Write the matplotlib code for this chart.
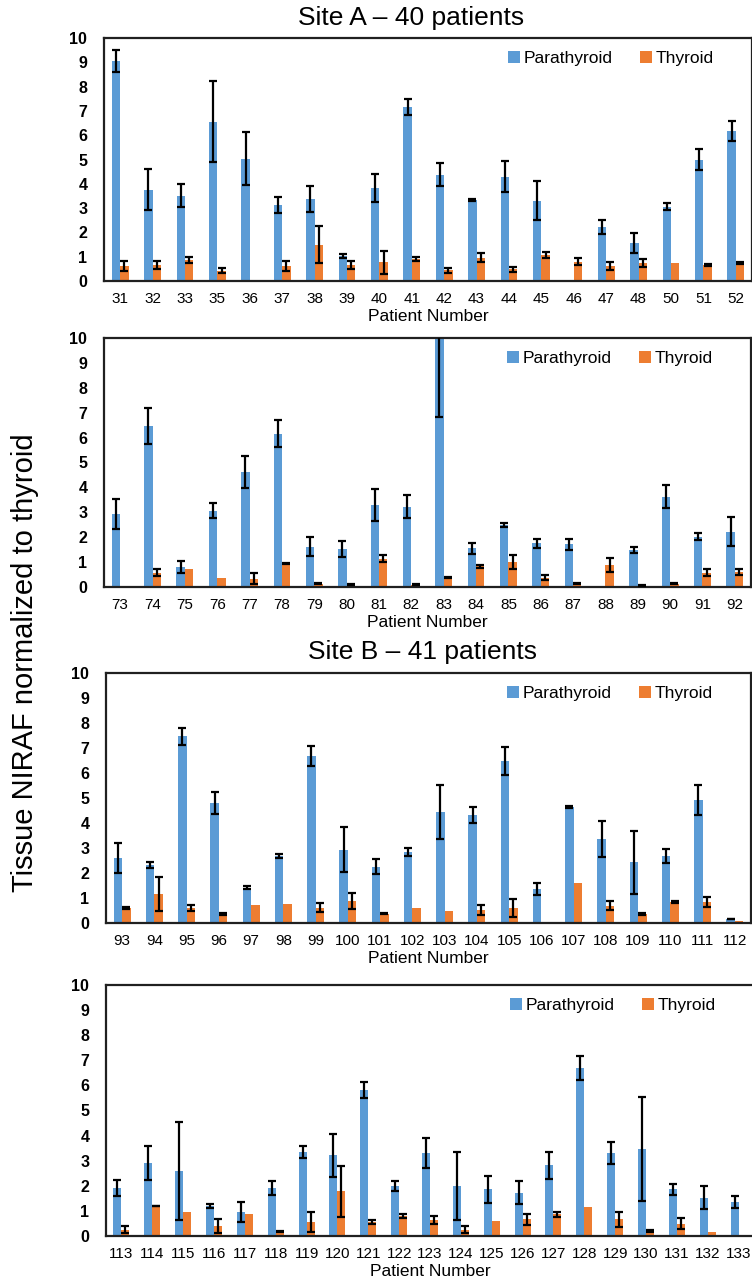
import numpy as np
import matplotlib
matplotlib.use('Agg')
import matplotlib.pyplot as plt

plt.rcParams['font.family'] = ['Liberation Sans', 'DejaVu Sans']

# Site A, first panel
ids_a1 = [31, 32, 33, 35, 36, 37, 38, 39, 40, 41, 42, 43, 44, 45, 46, 47, 48, 50, 51, 52]
para_a1 = [9.06, 3.76, 3.51, 6.56, 5.04, 3.14, 3.37, 1.03, 3.83, 7.16, 4.38, 3.33, 4.30, 3.30, 0, 2.23, 1.56, 3.06, 5.00, 6.17]
para_a1_err = [0.45, 0.85, 0.48, 1.65, 1.10, 0.33, 0.52, 0.07, 0.58, 0.32, 0.47, 0.03, 0.62, 0.80, 0, 0.29, 0.40, 0.14, 0.43, 0.41]
thy_a1 = [0.63, 0.66, 0.87, 0.43, 0, 0.63, 1.49, 0.66, 0.77, 0.90, 0.44, 0.96, 0.48, 1.07, 0.80, 0.62, 0.73, 0.76, 0.65, 0.74]
thy_a1_err = [0.20, 0.18, 0.13, 0.10, 0, 0.20, 0.76, 0.18, 0.48, 0.07, 0.11, 0.18, 0.10, 0.14, 0.15, 0.16, 0.17, 0, 0.04, 0.05]

# Site A, second panel
ids_a2 = [73, 74, 75, 76, 77, 78, 79, 80, 81, 82, 83, 84, 85, 86, 87, 88, 89, 90, 91, 92]
para_a2 = [2.92, 6.46, 0.81, 3.07, 4.62, 6.16, 1.62, 1.52, 3.30, 3.23, 10.5, 1.55, 2.49, 1.75, 1.71, 0, 1.48, 3.63, 2.02, 2.22]
para_a2_err = [0.60, 0.71, 0.24, 0.30, 0.63, 0.54, 0.38, 0.32, 0.63, 0.47, 3.66, 0.23, 0.10, 0.17, 0.21, 0, 0.13, 0.47, 0.13, 0.58]
thy_a2 = [0, 0.58, 0.71, 0.38, 0.34, 0.94, 0.13, 0.11, 1.14, 0.10, 0.38, 0.83, 1.01, 0.38, 0.13, 0.90, 0.07, 0.13, 0.58, 0.60]
thy_a2_err = [0, 0.13, 0, 0, 0.23, 0.03, 0.02, 0.03, 0.13, 0.03, 0.01, 0.07, 0.27, 0.10, 0.02, 0.28, 0.03, 0.02, 0.13, 0.12]

# Site B, first panel
ids_b1 = [93, 94, 95, 96, 97, 98, 99, 100, 101, 102, 103, 104, 105, 106, 107, 108, 109, 110, 111, 112]
para_b1 = [2.59, 2.33, 7.47, 4.81, 1.42, 2.70, 6.69, 2.93, 2.26, 2.86, 4.45, 4.32, 6.49, 1.37, 4.65, 3.36, 2.43, 2.69, 4.92, 0.16]
para_b1_err = [0.60, 0.13, 0.35, 0.44, 0.07, 0.08, 0.40, 0.90, 0.29, 0.16, 1.07, 0.31, 0.56, 0.23, 0.03, 0.72, 1.25, 0.27, 0.60, 0.01]
thy_b1 = [0.60, 1.16, 0.60, 0.36, 0.73, 0.77, 0.62, 0.89, 0.37, 0.60, 0.49, 0.53, 0.60, 0, 1.60, 0.70, 0.36, 0.84, 0.84, 0.10]
thy_b1_err = [0.04, 0.68, 0.13, 0.04, 0, 0, 0.17, 0.31, 0.02, 0, 0, 0.20, 0.37, 0, 0, 0.19, 0.04, 0.05, 0.20, 0]

# Site B, second panel
ids_b2 = [113, 114, 115, 116, 117, 118, 119, 120, 121, 122, 123, 124, 125, 126, 127, 128, 129, 130, 131, 132, 133]
para_b2 = [1.91, 2.91, 2.59, 1.20, 0.96, 1.91, 3.35, 3.22, 5.81, 1.98, 3.31, 1.99, 1.86, 1.72, 2.82, 6.70, 3.31, 3.48, 1.86, 1.53, 1.36]
para_b2_err = [0.33, 0.69, 1.96, 0.09, 0.40, 0.27, 0.24, 0.86, 0.33, 0.20, 0.61, 1.36, 0.53, 0.46, 0.53, 0.48, 0.44, 2.07, 0.23, 0.46, 0.24]
thy_b2 = [0.25, 1.20, 0.96, 0.40, 0.86, 0.16, 0.56, 1.78, 0.56, 0.80, 0.63, 0.25, 0.59, 0.66, 0.86, 1.16, 0.66, 0.20, 0.49, 0.16, 0]
thy_b2_err = [0.15, 0.01, 0, 0.27, 0, 0.02, 0.40, 1.01, 0.09, 0.09, 0.17, 0.15, 0, 0.23, 0.10, 0, 0.30, 0.04, 0.23, 0, 0]

blue = '#5B9BD5'
orange = '#ED7D31'
W, H = 752, 1285

fig = plt.figure(figsize=(W / 100, H / 100), dpi=100)


def panel(rect, ids, para, para_err, thy, thy_err):
    ax = fig.add_axes(rect)
    x = np.arange(len(ids))
    w = 0.26
    ax.bar(x - w / 2, para, w, color=blue, label='Parathyroid', zorder=2)
    ax.bar(x + w / 2, thy, w, color=orange, label='Thyroid', zorder=2)
    for off, v, e in [(-w / 2, para, para_err), (w / 2, thy, thy_err)]:
        v = np.array(v)
        e = np.array(e)
        m = e > 0
        ax.errorbar(x[m] + off, v[m], yerr=e[m], fmt='none', ecolor='black',
                    elinewidth=1.6, capsize=3, capthick=1.6, zorder=3)
    ax.set_xlim(-0.5, len(ids) - 0.5)
    ax.set_ylim(0, 10)
    ax.set_yticks(range(0, 11))
    ax.set_xticks(x)
    ax.set_xticklabels([str(i) for i in ids])
    ax.tick_params(axis='y', length=0, pad=12, labelsize=11.5)
    ax.tick_params(axis='x', length=0, pad=8, labelsize=11)
    for lab in ax.get_yticklabels():
        lab.set_fontweight('bold')
    for s in ax.spines.values():
        s.set_linewidth(1.6)
        s.set_color('#202020')
    ax.set_xlabel('Patient Number', fontsize=12.5, labelpad=2)
    ax.legend(loc='upper right', ncol=2, frameon=False, fontsize=12.5,
              handlelength=0.7, handleheight=0.7, handletextpad=0.2,
              columnspacing=1.6, bbox_to_anchor=(0.965, 1.01))
    return ax


def rect(left, right, top, bottom):
    return [left / W, 1 - bottom / H, (right - left) / W, (bottom - top) / H]


panel(rect(104, 752, 38, 281), ids_a1, para_a1, para_a1_err, thy_a1, thy_a1_err)
panel(rect(104, 751, 338, 587), ids_a2, para_a2, para_a2_err, thy_a2, thy_a2_err)
panel(rect(106, 751, 673, 923), ids_b1, para_b1, para_b1_err, thy_b1, thy_b1_err)
panel(rect(106, 754, 985, 1236), ids_b2, para_b2, para_b2_err, thy_b2, thy_b2_err)

fig.text(411 / W, 1 - 18 / H, 'Site A – 40 patients', ha='center', va='center', fontsize=19)
fig.text(422 / W, 1 - 652 / H, 'Site B – 41 patients', ha='center', va='center', fontsize=19)
fig.text(25 / W, 1 - 663 / H, 'Tissue NIRAF normalized to thyroid', rotation=90,
         ha='center', va='center', fontsize=21)

fig.savefig('out.png', dpi=100)
